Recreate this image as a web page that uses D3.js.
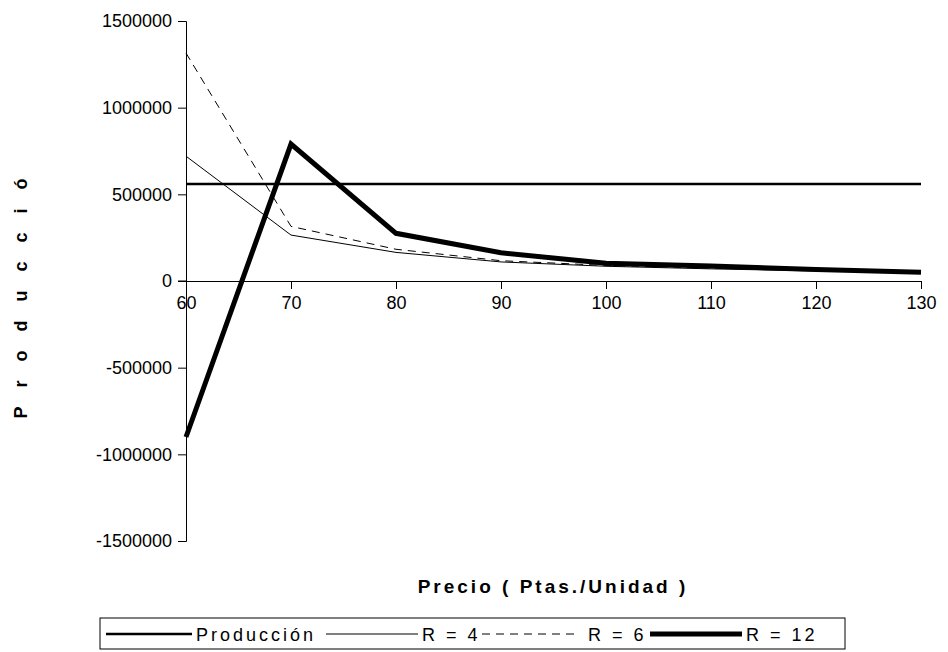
<!DOCTYPE html>
<html>
<head>
<meta charset="utf-8">
<script src="https://cdn.jsdelivr.net/npm/d3@7"></script>
<style>
  body { margin: 0; background: #fff; }
  text { font-family: "Liberation Sans", Arial, sans-serif; fill: #000; }
</style>
</head>
<body>
<script>
// precio (x) and the four series
var precios = [60, 70, 80, 90, 100, 110, 120, 130];
var produccion = [560000, 560000, 560000, 560000, 560000, 560000, 560000, 560000];
var r4  = [720000, 265000, 165000, 110000, 85000, 70000, 58000, 48000];
var r6  = [1315000, 315000, 183000, 117000, 90000, 74000, 62000, 52000];
var r12 = [-900000, 790000, 275000, 163000, 102000, 86000, 67000, 50000];
var yTicks = [-1500000, -1000000, -500000, 0, 500000, 1000000, 1500000];

var series = [
  {name: "Producción", values: produccion, width: 2.5, dash: null},
  {name: "R = 4", values: r4, width: 1, dash: null},
  {name: "R = 6", values: r6, width: 1, dash: "8,6"},
  {name: "R = 12", values: r12, width: 5, dash: null}
];

var width = 948, height = 652;
var margin = {top: 21, right: 27, bottom: 111, left: 186};

var svg = d3.select("body").append("svg")
    .attr("width", width)
    .attr("height", height);

var x = d3.scaleLinear()
    .domain([60, 130])
    .range([margin.left, width - margin.right]);
var y = d3.scaleLinear()
    .domain([-1500000, 1500000])
    .range([height - margin.bottom, margin.top]);

// y axis, plain hyphen for negatives like the original
var yAxis = svg.append("g")
    .attr("transform", "translate(" + margin.left + ",0)")
    .call(d3.axisLeft(y).tickValues(yTicks).tickSize(8).tickPadding(6)
      .tickFormat(function(d) { return String(d); }));
yAxis.selectAll("text").style("font-size", "18px");

// x axis sits on zero
var xAxis = svg.append("g")
    .attr("transform", "translate(0," + y(0) + ")")
    .call(d3.axisBottom(x).tickValues(precios).tickSize(8).tickPadding(7).tickSizeOuter(0));
xAxis.selectAll("text").style("font-size", "18px");
svg.selectAll(".domain").attr("stroke", "#000");
svg.selectAll(".tick line").attr("stroke", "#000");

// zero line reaches the y tick on the left
svg.append("line")
    .attr("x1", margin.left - 8).attr("x2", margin.left)
    .attr("y1", y(0)).attr("y2", y(0))
    .attr("stroke", "#000");

var line = d3.line()
    .x(function(d, i) { return x(precios[i]); })
    .y(function(d) { return y(d); });

svg.selectAll(".serie")
    .data(series)
  .enter().append("path")
    .attr("class", "serie")
    .attr("fill", "none")
    .attr("stroke", "#000")
    .attr("stroke-width", function(d) { return d.width; })
    .attr("stroke-dasharray", function(d) { return d.dash; })
    .attr("d", function(d) { return line(d.values); });

// axis titles
svg.append("text")
    .attr("transform", "translate(27," + (y(0) + 8) + ") rotate(-90)")
    .style("text-anchor", "middle")
    .style("font-weight", "bold")
    .style("font-size", "18px")
    .style("letter-spacing", "19px")
    .text("Producció");

svg.append("text")
    .attr("x", 553)
    .attr("y", 593)
    .style("text-anchor", "middle")
    .style("font-weight", "bold")
    .style("font-size", "19px")
    .style("letter-spacing", "3px")
    .text("Precio ( Ptas./Unidad )");

// legend, centred under the whole chart
var legend = svg.append("g");
legend.append("rect")
    .attr("x", 100).attr("y", 618)
    .attr("width", 745).attr("height", 31)
    .attr("fill", "none").attr("stroke", "#000");

var legendPos = [
  {x1: 106, x2: 192, tx: 196},
  {x1: 326, x2: 418, tx: 422},
  {x1: 482, x2: 576, tx: 588},
  {x1: 650, x2: 742, tx: 746}
];
var items = legend.selectAll(".item")
    .data(series)
  .enter().append("g");
items.append("line")
    .attr("x1", function(d, i) { return legendPos[i].x1; })
    .attr("x2", function(d, i) { return legendPos[i].x2; })
    .attr("y1", 634).attr("y2", 634)
    .attr("stroke", "#000")
    .attr("stroke-width", function(d) { return d.width; })
    .attr("stroke-dasharray", function(d) { return d.dash; });
items.append("text")
    .attr("x", function(d, i) { return legendPos[i].tx; })
    .attr("y", 641)
    .style("font-size", "18px")
    .style("letter-spacing", "3px")
    .style("white-space", "pre")
    .text(function(d) { return d.name; });
</script>
</body>
</html>
